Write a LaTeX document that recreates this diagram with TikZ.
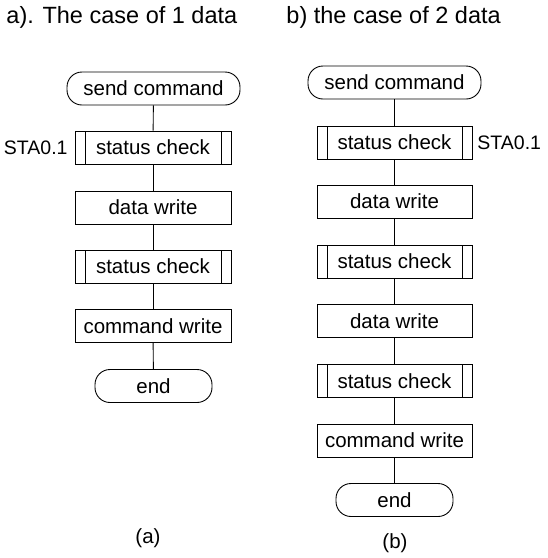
\documentclass[tikz,border=0pt]{standalone}
\usepackage{fontspec}
\setmainfont{Liberation Sans}
\begin{document}
\begin{tikzpicture}[x=1pt,y=-1pt,
  line width=0.9pt,
  every node/.style={font=\fontsize{20.5}{24}\selectfont, inner sep=0pt},
  box/.style={draw, rectangle, minimum width=156pt, minimum height=33pt},
  pproc/.style={box, path picture={
      \draw ([xshift=10pt]path picture bounding box.north west) -- ([xshift=10pt]path picture bounding box.south west);
      \draw ([xshift=-10pt]path picture bounding box.north east) -- ([xshift=-10pt]path picture bounding box.south east);}},
  term/.style={draw, rectangle, rounded corners=15pt, minimum height=33pt},
  title/.style={font=\fontsize{23.5}{28}\selectfont, anchor=west},
  lbl/.style={font=\fontsize{19.5}{24}\selectfont}]
\useasboundingbox (0,0) rectangle (548,558);

% titles
\node[title] (ta) at (6,17) {a). The case of 1 data};
\node[title] (tb) at (286,17) {b) the case of 2 data};

% column (a)
\node[term, minimum width=173pt] (a0) at (153.5,88.5) {send command};
\node[pproc] (a1) at (153,147.5) {status check};
\node[box] (a2) at (153,207.5) {data write};
\node[pproc] (a3) at (153,266.5) {status check};
\node[box] (a4) at (153,326) {command write};
\node[term, minimum width=117pt] (a5) at (153.5,386) {end};
\node[lbl, anchor=east] (sa) at (68,147.5) {STA0.1};
\node (la) at (148,538) {(a)};
\draw (a0) -- (a1);
\draw (a1) -- (a2);
\draw (a2) -- (a3);
\draw (a3) -- (a4);
\draw (a4) -- (a5);

% column (b)
\node[term, minimum width=173pt] (b0) at (394.5,82.5) {send command};
\node[pproc, minimum width=155pt] (b1) at (394.5,142.5) {status check};
\node[box, minimum width=155pt] (b2) at (394.5,201.5) {data write};
\node[pproc, minimum width=155pt] (b3) at (394.5,261.5) {status check};
\node[box, minimum width=155pt] (b4) at (394.5,321) {data write};
\node[pproc, minimum width=155pt] (b5) at (394.5,381) {status check};
\node[box, minimum width=155pt] (b6) at (394.5,440.5) {command write};
\node[term, minimum width=117pt] (b7) at (394.5,500) {end};
\node[lbl, anchor=west] (sb) at (477,142.5) {STA0.1};
\node (lb) at (395,543) {(b)};
\draw (b0) -- (b1);
\draw (b1) -- (b2);
\draw (b2) -- (b3);
\draw (b3) -- (b4);
\draw (b4) -- (b5);
\draw (b5) -- (b6);
\draw (b6) -- (b7);
\end{tikzpicture}
\end{document}
